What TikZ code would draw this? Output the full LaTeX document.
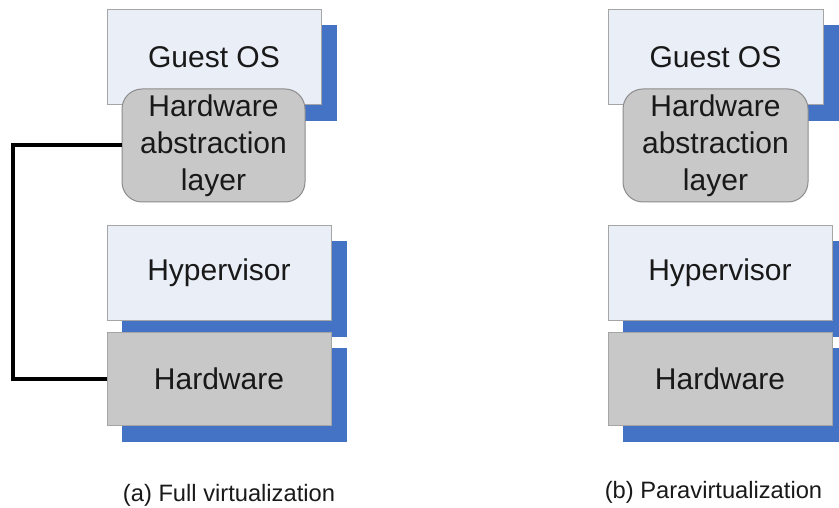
\documentclass[tikz,border=0pt]{standalone}
\usepackage{fontspec}
\setmainfont{Liberation Sans}
\usetikzlibrary{backgrounds,calc}

\definecolor{paleblue}{RGB}{233,238,247}
\definecolor{boxgray}{RGB}{200,200,200}
\definecolor{edgegray}{RGB}{165,165,165}
\definecolor{haledge}{RGB}{140,140,140}
\definecolor{shadowblue}{RGB}{68,114,196}
\definecolor{inkblack}{RGB}{25,25,25}

\tikzset{
  layerbox/.style={rectangle, draw=edgegray, line width=1pt, inner sep=0pt,
    text=inkblack, font=\fontsize{30}{37}\selectfont},
  softbox/.style={layerbox, fill=paleblue},
  hwbox/.style={layerbox, fill=boxgray},
  halbox/.style={layerbox, draw=haledge, fill=boxgray, rounded corners=20pt,
    align=center},
  caption/.style={anchor=base, text=inkblack, font=\fontsize{23.7}{28}\selectfont},
  connector/.style={draw=black, line width=4pt},
  backshadow/.style={fill=shadowblue}
}

% draws the blue offset block behind a node
\newcommand{\blockshadow}[1]{%
  \fill[backshadow] ([xshift=15pt,yshift=-16pt]#1.south west) rectangle
                    ([xshift=15pt,yshift=-16pt]#1.north east);}

\begin{document}
\begin{tikzpicture}[x=1pt,y=-1pt]
\useasboundingbox (0,0) rectangle (839,508);
\clip (0,0) rectangle (839,508);

% ---- (a) full virtualization ----
\node[softbox, minimum width=214pt, minimum height=95pt] (gos1) at (214,57.5) {Guest OS};
\node[halbox, minimum width=183pt, minimum height=113pt] (hal1) at (213.5,145.5)
  {Hardware\\abstraction\\layer};
\node[softbox, minimum width=224pt, minimum height=94pt] (hyp1) at (219,273) {Hypervisor};
\node[hwbox, minimum width=224pt, minimum height=93pt] (hw1) at (219,378.5) {Hardware};

\coordinate (bend) at (13,0);
\draw[connector] (hal1.west) -- (hal1.west -| bend) |- (hw1.west);

\node[caption] (capa) at (229,501.5) {(a) Full virtualization};

% ---- (b) paravirtualization ----
\node[softbox, minimum width=215pt, minimum height=95pt] (gos2) at (715.5,57.5) {Guest OS};
\node[halbox, minimum width=185pt, minimum height=113pt] (hal2) at (715.5,145.5)
  {Hardware\\abstraction\\layer};
\node[softbox, minimum width=224pt, minimum height=94pt] (hyp2) at (720,273) {Hypervisor};
\node[hwbox, minimum width=224pt, minimum height=93pt] (hw2) at (720,378.5) {Hardware};

\node[caption] (capb) at (713.5,498) {(b) Paravirtualization};

% ---- blue offset blocks behind the layers ----
\begin{scope}[on background layer]
  \blockshadow{gos1}
  \blockshadow{hyp1}
  \blockshadow{hw1}
  \blockshadow{gos2}
  \blockshadow{hyp2}
  \blockshadow{hw2}
\end{scope}
\end{tikzpicture}
\end{document}
